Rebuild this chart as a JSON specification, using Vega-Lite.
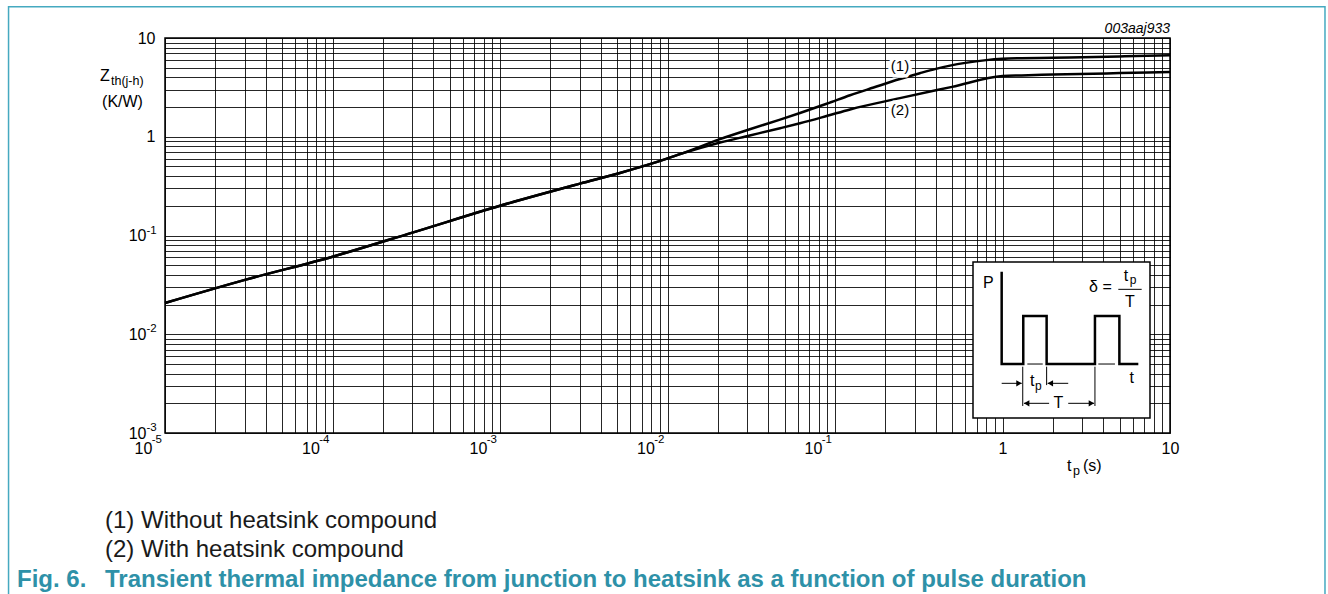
{
  "$schema": "https://vega.github.io/schema/vega-lite/v6.json",
  "width": 1005,
  "height": 395,
  "autosize": {"type": "none"},
  "padding": {"left": 165, "top": 38, "right": 158, "bottom": 161},
  "background": "white",
  "config": {
    "font": "Liberation Sans",
    "view": {"stroke": "#000", "strokeWidth": 1.5},
    "text": {"font": "Liberation Sans", "color": "#000"}
  },
  "datasets": {
    "curves": [
      {"curve": "1", "t": 0.00001, "z": 0.0207},
      {"curve": "1", "t": 0.00003, "z": 0.0355},
      {"curve": "1", "t": 0.0001, "z": 0.061},
      {"curve": "1", "t": 0.0003, "z": 0.107},
      {"curve": "1", "t": 0.001, "z": 0.2},
      {"curve": "1", "t": 0.003, "z": 0.335},
      {"curve": "1", "t": 0.0052, "z": 0.43},
      {"curve": "1", "t": 0.0082, "z": 0.54},
      {"curve": "1", "t": 0.012, "z": 0.67},
      {"curve": "1", "t": 0.0206, "z": 0.946},
      {"curve": "1", "t": 0.031, "z": 1.19},
      {"curve": "1", "t": 0.047, "z": 1.49},
      {"curve": "1", "t": 0.0618, "z": 1.74},
      {"curve": "1", "t": 0.09, "z": 2.17},
      {"curve": "1", "t": 0.123, "z": 2.63},
      {"curve": "1", "t": 0.17, "z": 3.15},
      {"curve": "1", "t": 0.244, "z": 3.84},
      {"curve": "1", "t": 0.321, "z": 4.4},
      {"curve": "1", "t": 0.4, "z": 4.87},
      {"curve": "1", "t": 0.486, "z": 5.25},
      {"curve": "1", "t": 0.6, "z": 5.6},
      {"curve": "1", "t": 0.8, "z": 5.97},
      {"curve": "1", "t": 1, "z": 6.15},
      {"curve": "1", "t": 1.3, "z": 6.24},
      {"curve": "1", "t": 2, "z": 6.32},
      {"curve": "1", "t": 5, "z": 6.5},
      {"curve": "1", "t": 10, "z": 6.67},
      {"curve": "2", "t": 0.00001, "z": 0.0207},
      {"curve": "2", "t": 0.00003, "z": 0.0355},
      {"curve": "2", "t": 0.0001, "z": 0.061},
      {"curve": "2", "t": 0.0003, "z": 0.107},
      {"curve": "2", "t": 0.001, "z": 0.2},
      {"curve": "2", "t": 0.003, "z": 0.335},
      {"curve": "2", "t": 0.0052, "z": 0.43},
      {"curve": "2", "t": 0.0082, "z": 0.54},
      {"curve": "2", "t": 0.012, "z": 0.67},
      {"curve": "2", "t": 0.0206, "z": 0.873},
      {"curve": "2", "t": 0.031, "z": 1.03},
      {"curve": "2", "t": 0.047, "z": 1.22},
      {"curve": "2", "t": 0.0618, "z": 1.37},
      {"curve": "2", "t": 0.09, "z": 1.63},
      {"curve": "2", "t": 0.123, "z": 1.89},
      {"curve": "2", "t": 0.244, "z": 2.46},
      {"curve": "2", "t": 0.5, "z": 3.2},
      {"curve": "2", "t": 1, "z": 4.12},
      {"curve": "2", "t": 1.3, "z": 4.18},
      {"curve": "2", "t": 2, "z": 4.26},
      {"curve": "2", "t": 5, "z": 4.41},
      {"curve": "2", "t": 10, "z": 4.52}
    ],
    "curveLabels": [
      {"label": "(1)", "t": 0.2443, "z": 5.24},
      {"label": "(2)", "t": 0.2443, "z": 1.874}
    ],
    "xExp": [
      {"t": 0.00001, "e": "-5"},
      {"t": 0.0001, "e": "-4"},
      {"t": 0.001, "e": "-3"},
      {"t": 0.01, "e": "-2"},
      {"t": 0.1, "e": "-1"}
    ],
    "yExp": [
      {"z": 0.001, "e": "-3"},
      {"z": 0.01, "e": "-2"},
      {"z": 0.1, "e": "-1"}
    ],
    "footnotes": [
      {"label": "(1) Without heatsink compound", "t": 0.000004385, "z": 0.000127},
      {"label": "(2) With heatsink compound", "t": 0.000004385, "z": 0.0000646}
    ],
    "caption": [
      {"label": "Fig. 6.", "t": 0.000001307, "z": 0.0000328},
      {"label": "Transient thermal impedance from junction to heatsink as a function of pulse duration", "t": 0.000004385, "z": 0.0000328}
    ],
    "axisText": [
      {"label": "Z", "t": 0.00000409, "z": 4.15},
      {"label": "(K/W)", "t": 0.00000421, "z": 2.26},
      {"label": "t", "t": 2.43, "z": 0.000459},
      {"label": "(s)", "t": 3.02, "z": 0.000459}
    ],
    "axisSub": [
      {"label": "th(j-h)", "t": 0.00000476, "z": 3.69},
      {"label": "p", "t": 2.64, "z": 0.000409}
    ],
    "pulse": [
      {"i": 0, "u": 1.62, "v": 8.27},
      {"i": 1, "u": 1.62, "v": 3.05},
      {"i": 2, "u": 2.84, "v": 3.05},
      {"i": 3, "u": 2.84, "v": 5.76},
      {"i": 4, "u": 4.16, "v": 5.76},
      {"i": 5, "u": 4.16, "v": 3.05},
      {"i": 6, "u": 6.89, "v": 3.05},
      {"i": 7, "u": 6.89, "v": 5.76},
      {"i": 8, "u": 8.27, "v": 5.76},
      {"i": 9, "u": 8.27, "v": 3.05},
      {"i": 10, "u": 9.34, "v": 3.05}
    ],
    "insetRules": [
      {"u": 3.07, "u2": 3.94, "v": 3.05, "v2": 3.05},
      {"u": 7.08, "u2": 8.02, "v": 3.05, "v2": 3.05},
      {"u": 2.81, "u2": 2.81, "v": 2.9, "v2": 0.68},
      {"u": 4.16, "u2": 4.16, "v": 2.9, "v2": 1.86},
      {"u": 6.89, "u2": 6.89, "v": 2.9, "v2": 0.68},
      {"u": 1.62, "u2": 2.75, "v": 1.96, "v2": 1.96},
      {"u": 4.22, "u2": 5.38, "v": 1.96, "v2": 1.96},
      {"u": 2.88, "u2": 4.3, "v": 0.83, "v2": 0.83},
      {"u": 5.38, "u2": 6.84, "v": 0.83, "v2": 0.83},
      {"u": 8.21, "u2": 9.53, "v": 7.27, "v2": 7.27}
    ],
    "arrowHeads": [
      {"u": 2.6, "v": 1.96, "dir": "right"},
      {"u": 4.37, "v": 1.96, "dir": "left"},
      {"u": 3.03, "v": 0.83, "dir": "left"},
      {"u": 6.69, "v": 0.83, "dir": "right"}
    ],
    "insetText": [
      {"label": "P", "u": 0.865, "v": 7.61},
      {"label": "δ =", "u": 7.2, "v": 7.42},
      {"label": "t", "u": 8.64, "v": 8.04},
      {"label": "T", "u": 8.87, "v": 6.57},
      {"label": "t", "u": 8.97, "v": 2.24},
      {"label": "t", "u": 3.35, "v": 2.11},
      {"label": "T", "u": 4.82, "v": 0.87}
    ],
    "insetSub": [
      {"label": "p", "u": 9.04, "v": 7.8},
      {"label": "p", "u": 3.69, "v": 1.81}
    ]
  },
  "resolve": {"scale": {"x": "independent", "y": "independent"}},
  "layer": [
    {
      "layer": [
        {
          "data": {"values": [{}]},
          "mark": {"type": "rect", "fillOpacity": 0, "stroke": "#45a9c0", "strokeWidth": 1.5, "clip": false},
          "encoding": {
            "x": {"datum": 0.000001164, "type": "quantitative"},
            "x2": {"datum": 84.2},
            "y": {"datum": 20.77, "type": "quantitative"},
            "y2": {"datum": 0.00002}
          }
        },
        {
          "data": {"name": "curves"},
          "mark": {"type": "line", "color": "#000", "strokeWidth": 2.5, "interpolate": "monotone"},
          "encoding": {
            "x": {
              "field": "t", "type": "quantitative",
              "scale": {"type": "log", "domain": [0.00001, 10], "nice": false},
              "axis": {
                "title": null,
                "values": [0.00001,0.00002,0.00003,0.00004,0.00005,0.00006,0.00007,0.00008,0.00009,0.0001,0.0002,0.0003,0.0004,0.0005,0.0006,0.0007,0.0008,0.0009,0.001,0.002,0.003,0.004,0.005,0.006,0.007,0.008,0.009,0.01,0.02,0.03,0.04,0.05,0.06,0.07,0.08,0.09,0.1,0.2,0.3,0.4,0.5,0.6,0.7,0.8,0.9,1,2,3,4,5,6,7,8,9,10],
                "labelExpr": "datum.value == 0.00001 || datum.value == 0.0001 || datum.value == 0.001 || datum.value == 0.01 || datum.value == 0.1 || datum.value == 10 ? '10' : datum.value == 1 ? '1' : ''",
                "labelAlign": "center",
                "labelOffset": {"condition": {"test": "datum.value < 0.5", "value": -22}, "value": 0},
                "labelFlush": false,
                "labelOverlap": false,
                "labelBound": false,
                "labelFontSize": 16,
                "labelColor": "#000",
                "labelPadding": 7,
                "ticks": false,
                "domain": false,
                "grid": true,
                "gridColor": "#000",
                "gridOpacity": 0.85,
                "gridWidth": 1
              }
            },
            "y": {
              "field": "z", "type": "quantitative",
              "scale": {"type": "log", "domain": [0.001, 10], "nice": false},
              "axis": {
                "title": null,
                "values": [0.001,0.002,0.003,0.004,0.005,0.006,0.007,0.008,0.009,0.01,0.02,0.03,0.04,0.05,0.06,0.07,0.08,0.09,0.1,0.2,0.3,0.4,0.5,0.6,0.7,0.8,0.9,1,2,3,4,5,6,7,8,9,10],
                "labelExpr": "datum.value == 0.001 || datum.value == 0.01 || datum.value == 0.1 || datum.value == 10 ? '10' : datum.value == 1 ? '1' : ''",
                "labelPadding": {"condition": {"test": "datum.value < 0.5", "value": 19}, "value": 10},
                "labelFlush": false,
                "labelOverlap": false,
                "labelBound": false,
                "labelFontSize": 16,
                "labelColor": "#000",
                "ticks": false,
                "domain": false,
                "grid": true,
                "gridColor": "#000",
                "gridOpacity": 0.85,
                "gridWidth": 1
              }
            },
            "detail": {"field": "curve"}
          }
        },
        {
          "data": {"name": "xExp"},
          "mark": {"type": "text", "fontSize": 11.5, "color": "#000", "align": "left", "baseline": "middle", "dx": -13.3, "dy": 7},
          "encoding": {
            "x": {"field": "t", "type": "quantitative"},
            "y": {"datum": 0.001, "type": "quantitative"},
            "text": {"field": "e"}
          }
        },
        {
          "data": {"name": "yExp"},
          "mark": {"type": "text", "fontSize": 11.5, "color": "#000", "align": "left", "baseline": "middle", "dx": -18.5, "dy": -5},
          "encoding": {
            "x": {"datum": 0.00001, "type": "quantitative"},
            "y": {"field": "z", "type": "quantitative"},
            "text": {"field": "e"}
          }
        },
        {
          "data": {"name": "curveLabels"},
          "mark": {"type": "text", "fontSize": 15, "stroke": "white", "strokeWidth": 7, "color": "white", "align": "center", "baseline": "middle"},
          "encoding": {
            "x": {"field": "t", "type": "quantitative"},
            "y": {"field": "z", "type": "quantitative"},
            "text": {"field": "label"}
          }
        },
        {
          "data": {"name": "curveLabels"},
          "mark": {"type": "text", "fontSize": 15, "color": "#000", "align": "center", "baseline": "middle"},
          "encoding": {
            "x": {"field": "t", "type": "quantitative"},
            "y": {"field": "z", "type": "quantitative"},
            "text": {"field": "label"}
          }
        },
        {
          "data": {"values": [{}]},
          "mark": {"type": "text", "fontSize": 14, "fontStyle": "italic", "color": "#000", "align": "right", "baseline": "middle"},
          "encoding": {
            "x": {"datum": 10, "type": "quantitative"},
            "y": {"datum": 12.43, "type": "quantitative"},
            "text": {"value": "003aaj933"}
          }
        },
        {
          "data": {"name": "axisText"},
          "mark": {"type": "text", "fontSize": 16, "color": "#000", "align": "left", "baseline": "middle"},
          "encoding": {
            "x": {"field": "t", "type": "quantitative"},
            "y": {"field": "z", "type": "quantitative"},
            "text": {"field": "label"}
          }
        },
        {
          "data": {"name": "axisSub"},
          "mark": {"type": "text", "fontSize": 12.5, "color": "#000", "align": "left", "baseline": "middle"},
          "encoding": {
            "x": {"field": "t", "type": "quantitative"},
            "y": {"field": "z", "type": "quantitative"},
            "text": {"field": "label"}
          }
        },
        {
          "data": {"name": "footnotes"},
          "mark": {"type": "text", "fontSize": 24, "color": "#1a1a1a", "align": "left", "baseline": "middle"},
          "encoding": {
            "x": {"field": "t", "type": "quantitative"},
            "y": {"field": "z", "type": "quantitative"},
            "text": {"field": "label"}
          }
        },
        {
          "data": {"name": "caption"},
          "mark": {"type": "text", "fontSize": 24, "fontWeight": "bold", "color": "#2e91a8", "align": "left", "baseline": "middle"},
          "encoding": {
            "x": {"field": "t", "type": "quantitative"},
            "y": {"field": "z", "type": "quantitative"},
            "text": {"field": "label"}
          }
        }
      ]
    },
    {
      "layer": [
        {
          "data": {"values": [{}]},
          "mark": {"type": "rect", "fill": "white", "stroke": "#000", "strokeWidth": 1.5},
          "encoding": {
            "x": {"datum": 0, "type": "quantitative", "scale": {"domain": [-45.65, 11.13], "nice": false, "zero": false}, "axis": null},
            "x2": {"datum": 10},
            "y": {"datum": 0, "type": "quantitative", "scale": {"domain": [-0.847, 21.47], "nice": false, "zero": false}, "axis": null},
            "y2": {"datum": 8.81}
          }
        },
        {
          "data": {"name": "insetRules"},
          "mark": {"type": "rule", "color": "#000", "strokeWidth": 1},
          "encoding": {
            "x": {"field": "u", "type": "quantitative"},
            "x2": {"field": "u2"},
            "y": {"field": "v", "type": "quantitative"},
            "y2": {"field": "v2"}
          }
        },
        {
          "data": {"name": "pulse"},
          "mark": {"type": "line", "color": "#000", "strokeWidth": 2.5, "strokeJoin": "miter"},
          "encoding": {
            "x": {"field": "u", "type": "quantitative"},
            "y": {"field": "v", "type": "quantitative"},
            "order": {"field": "i"}
          }
        },
        {
          "data": {"name": "arrowHeads"},
          "mark": {"type": "point", "filled": true, "color": "#000", "size": 40, "opacity": 1},
          "encoding": {
            "x": {"field": "u", "type": "quantitative"},
            "y": {"field": "v", "type": "quantitative"},
            "shape": {"field": "dir", "type": "nominal", "scale": {"domain": ["right", "left"], "range": ["triangle-right", "triangle-left"]}, "legend": null}
          }
        },
        {
          "data": {"name": "insetText"},
          "mark": {"type": "text", "fontSize": 16, "color": "#000", "align": "center", "baseline": "middle"},
          "encoding": {
            "x": {"field": "u", "type": "quantitative"},
            "y": {"field": "v", "type": "quantitative"},
            "text": {"field": "label"}
          }
        },
        {
          "data": {"name": "insetSub"},
          "mark": {"type": "text", "fontSize": 12, "color": "#000", "align": "center", "baseline": "middle"},
          "encoding": {
            "x": {"field": "u", "type": "quantitative"},
            "y": {"field": "v", "type": "quantitative"},
            "text": {"field": "label"}
          }
        }
      ]
    }
  ]
}
